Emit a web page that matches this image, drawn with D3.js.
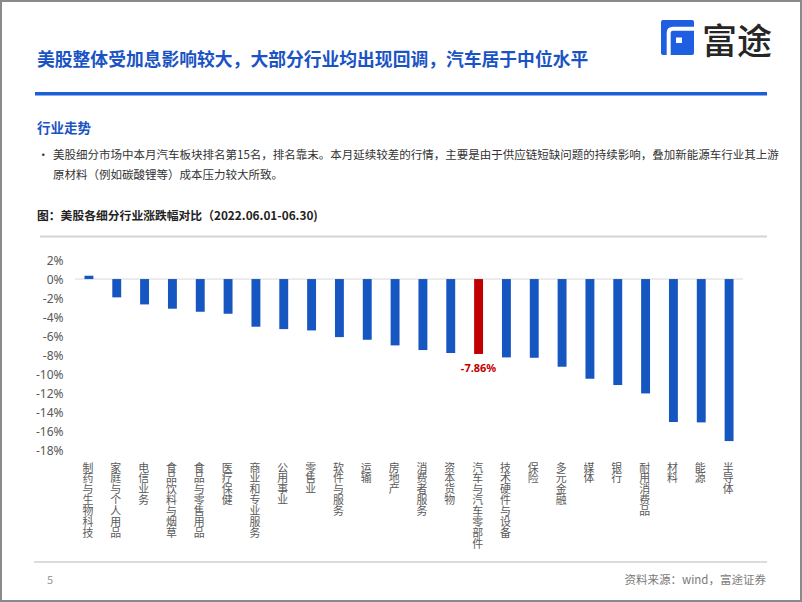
<!DOCTYPE html>
<html><head><meta charset="utf-8">
<script src="https://cdn.jsdelivr.net/npm/d3@7"></script>
<style>
html,body{margin:0;padding:0;background:#fff;}
svg{display:block;font-family:"Noto Sans CJK SC","Noto Sans",sans-serif;}
.vt{writing-mode:vertical-rl;text-orientation:upright;}
</style></head>
<body>
<svg id="c" width="802" height="602"></svg>
<script>
const categories = ["制药与生物科技","家庭与个人用品","电信业务","食品饮料与烟草","食品与零售用品","医疗保健","商业和专业服务","公用事业","零售业","软件与服务","运输","房地产","消费者服务","资本货物","汽车与汽车零部件","技术硬件与设备","保险","多元金融","媒体","银行","耐用消费品","材料","能源","半导体"];
const values = [0.35,-1.92,-2.66,-3.11,-3.43,-3.64,-5.0,-5.25,-5.39,-6.09,-6.37,-6.96,-7.45,-7.76,-7.86,-8.22,-8.26,-9.2,-10.46,-11.12,-12.0,-15.0,-15.04,-17.0];
const highlight = "汽车与汽车零部件";
const yTicks = [2,0,-2,-4,-6,-8,-10,-12,-14,-16,-18];
const title = "美股整体受加息影响较大，大部分行业均出现回调，汽车居于中位水平";
const section = "行业走势";
const bodyLines = ["美股细分市场中本月汽车板块排名第15名，排名靠末。本月延续较差的行情，主要是由于供应链短缺问题的持续影响，叠加新能源车行业其上游","原材料（例如碳酸锂等）成本压力较大所致。"];
const caption = "图：美股各细分行业涨跌幅对比（2022.06.01-06.30)";
const source = "资料来源：wind，富途证券";
const pageNo = "5";

const svg = d3.select("#c");
// frame
svg.append("rect").attr("x",1).attr("y",1).attr("width",800).attr("height",600)
  .attr("fill","#fff").attr("stroke","#8a8a8a").attr("stroke-width",2);

// header
svg.append("text").attr("x",37).attr("y",58).attr("dominant-baseline","central")
  .attr("font-size",17.8).attr("font-weight","bold").attr("fill","#1a54c4").text(title);
svg.append("rect").attr("x",35).attr("y",92).attr("width",732).attr("height",3.5).attr("fill","#1a5fd8");

// logo
const lg = svg.append("g");
lg.append("rect").attr("x",661).attr("y",20).attr("width",33).attr("height",35).attr("rx",2).attr("fill","#1d5fe0");
lg.append("path").attr("d","M668.7,55 V33 Q668.7,28.7 673,28.7 H694").attr("fill","none").attr("stroke","#fff").attr("stroke-width",4);
lg.append("rect").attr("x",676).attr("y",37.5).attr("width",6).attr("height",5.5).attr("fill","#fff");
svg.append("text").attr("x",702).attr("y",38).attr("dominant-baseline","central")
  .attr("font-size",35).attr("font-weight",500).attr("fill","#262626").text("富途");

// section
svg.append("text").attr("x",37).attr("y",127).attr("dominant-baseline","central")
  .attr("font-size",13.5).attr("font-weight","bold").attr("fill","#1a54c4").text(section);
svg.append("text").attr("x",37.5).attr("y",153.5).attr("dominant-baseline","central")
  .attr("font-size",11.5).attr("fill","#333").text("•");
bodyLines.forEach((t,i)=>{
  svg.append("text").attr("x",53).attr("y",153.5+i*20).attr("dominant-baseline","central")
    .attr("font-size",11.5).attr("fill","#333").text(t);
});
svg.append("text").attr("x",37).attr("y",214.5).attr("dominant-baseline","central")
  .attr("font-size",11.8).attr("font-weight","bold").attr("fill","#222").text(caption);
svg.append("rect").attr("x",40).attr("y",235.5).attr("width",727).attr("height",2).attr("fill","#d4d4d4");

// chart
const x = d3.scaleBand().domain(categories).range([75,743]).paddingInner(0.68).paddingOuter(0.34);
const y = d3.scaleLinear().domain([-18,2]).range([450.6,260]);

svg.append("g").selectAll("text").data(yTicks).join("text")
  .attr("x",63.5).attr("y",d=>y(d)).attr("text-anchor","end").attr("dominant-baseline","central")
  .attr("font-family","'Noto Sans',sans-serif").attr("font-size",12).attr("fill","#595959")
  .text(d=>d+"%");

svg.append("line").attr("x1",75).attr("x2",743).attr("y1",y(0)).attr("y2",y(0))
  .attr("stroke","#d9d9d9").attr("stroke-width",1);

svg.append("g").selectAll("rect").data(categories).join("rect")
  .attr("x",d=>x(d)).attr("width",x.bandwidth())
  .attr("y",(d,i)=>y(Math.max(0,values[i])))
  .attr("height",(d,i)=>Math.abs(y(values[i])-y(0)))
  .attr("fill",d=>d===highlight?"#c00000":"#1556c0");

const hi = categories.indexOf(highlight);
svg.append("text").attr("x",x(highlight)+x.bandwidth()/2).attr("y",y(values[hi])+14)
  .attr("text-anchor","middle").attr("dominant-baseline","central")
  .attr("font-family","'Noto Sans',sans-serif").attr("font-weight","bold")
  .attr("font-size",11).attr("fill","#c00000").text(values[hi].toFixed(2)+"%");

// x labels vertical
svg.append("g").selectAll("text").data(categories).join("text")
  .attr("class","vt")
  .attr("x",d=>x(d)+x.bandwidth()/2 - 1).attr("y",462)
  .attr("font-size",10.9).attr("fill","#595959")
  .text(d=>d);

// footer
svg.append("rect").attr("x",34).attr("y",561).attr("width",733).attr("height",2).attr("fill","#dcdcdc");
svg.append("text").attr("x",47).attr("y",579).attr("dominant-baseline","central")
  .attr("font-size",11).attr("fill","#9a9a9a").text(pageNo);
svg.append("text").attr("x",766).attr("y",579).attr("text-anchor","end").attr("dominant-baseline","central")
  .attr("font-size",11.5).attr("fill","#7a7a7a").text(source);
</script>
</body></html>
